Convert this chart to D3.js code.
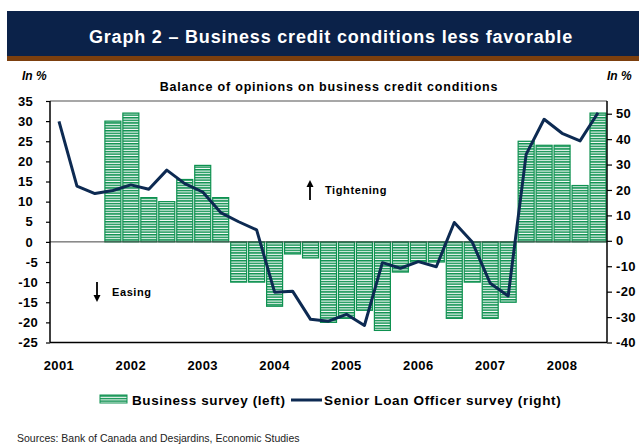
<!DOCTYPE html>
<html>
<head>
<meta charset="utf-8">
<script src="https://cdn.jsdelivr.net/npm/d3@7"></script>
<style>
  body { margin: 0; background: #fff; }
  svg { display: block; font-family: "Liberation Sans", Arial, sans-serif; }
</style>
</head>
<body>
<div id="chart"></div>
<script>

// quarters 2001Q1 .. 2008Q3
var quarters = ["2001Q1","2001Q2","2001Q3","2001Q4","2002Q1","2002Q2","2002Q3","2002Q4",
                "2003Q1","2003Q2","2003Q3","2003Q4","2004Q1","2004Q2","2004Q3","2004Q4",
                "2005Q1","2005Q2","2005Q3","2005Q4","2006Q1","2006Q2","2006Q3","2006Q4",
                "2007Q1","2007Q2","2007Q3","2007Q4","2008Q1","2008Q2","2008Q3"];

var years = ["2001","2002","2003","2004","2005","2006","2007","2008"];

// Business survey (left axis)
var business = [null, null, null, 30, 32, 11, 10, 15.5,
                19, 11, -10, -10, -16, -3, -4, -20,
                -19, -17, -22, -7.5, -5, -5, -19, -10,
                -19, -15, 25, 24, 24, 14, 32];

// Senior Loan Officer survey (right axis)
var seniorLoan = [47, 21.5, 18.6, 19.8, 22, 20.3, 27.8, 22.5,
                  19.2, 11.1, 7.5, 4.3, -20.2, -19.8, -30.9, -31.6,
                  -28.9, -33.3, -8.6, -10.8, -8.2, -10.2, 7.2, -0.5,
                  -16.7, -21.7, 34, 47.8, 42.3, 39.3, 50.4];

var leftTicks = [35, 30, 25, 20, 15, 10, 5, 0, -5, -10, -15, -20, -25];
var rightTicks = [50, 40, 30, 20, 10, 0, -10, -20, -30, -40];

var navy = "#0b2249", green = "#0e9150", lineCol = "#0d2a52";

var svg = d3.select("#chart").append("svg")
    .attr("width", 639)
    .attr("height", 444);

var plot = {left: 50, right: 607, top: 101, bottom: 342.5};

// header band
svg.append("rect").attr("x", 7).attr("y", 11).attr("width", 632).attr("height", 46).attr("fill", navy);
svg.append("rect").attr("x", 7).attr("y", 56).attr("width", 632).attr("height", 5).attr("fill", "#7c3f0e");
svg.append("text")
    .attr("x", 331).attr("y", 43)
    .attr("text-anchor", "middle")
    .attr("fill", "#fff")
    .style("font-size", "18px").style("font-weight", "bold")
    .style("letter-spacing", "0.8px")
    .text("Graph 2 – Business credit conditions less favorable");

// stripe pattern for bars
var pat = svg.append("defs").append("pattern")
    .attr("id", "stripes")
    .attr("patternUnits", "userSpaceOnUse")
    .attr("width", 10).attr("height", 2.6);
pat.append("rect").attr("width", 10).attr("height", 2.6).attr("fill", "#fff");
pat.append("rect").attr("width", 10).attr("height", 1.5).attr("fill", green);

var x = d3.scaleBand().domain(quarters).range([plot.left, plot.right]).paddingInner(0.11).paddingOuter(0.055);
var yL = d3.scaleLinear().domain([-25, 35]).range([plot.bottom, plot.top]);
var yR = d3.scaleLinear().domain([-40, 55]).range([plot.bottom, plot.top]);

// frame top (gray)
svg.append("line")
    .attr("x1", plot.left).attr("x2", plot.right)
    .attr("y1", plot.top).attr("y2", plot.top)
    .attr("stroke", "#8a8a8a").attr("stroke-width", 1.5);

// bars
var barData = quarters.map(function(q, i) { return {q: q, v: business[i]}; })
    .filter(function(d) { return d.v !== null; });

svg.selectAll(".bar")
    .data(barData)
    .enter().append("rect")
    .attr("class", "bar")
    .attr("x", function(d) { return x(d.q); })
    .attr("width", x.bandwidth())
    .attr("y", function(d) { return yL(Math.max(0, d.v)); })
    .attr("height", function(d) { return Math.abs(yL(d.v) - yL(0)); })
    .attr("fill", "url(#stripes)")
    .attr("stroke", green).attr("stroke-width", 1.2);

// zero line
svg.append("line")
    .attr("x1", plot.left).attr("x2", plot.right)
    .attr("y1", yL(0)).attr("y2", yL(0))
    .attr("stroke", "#444").attr("stroke-width", 1);

// axes (plain hyphen minus, like the original)
var fmt = function(d) { return String(d); };

var axL = svg.append("g")
    .attr("class", "axis")
    .attr("transform", "translate(" + plot.left + ",0)")
    .call(d3.axisLeft(yL).tickValues(leftTicks).tickFormat(fmt).tickSize(4).tickPadding(13));

var axR = svg.append("g")
    .attr("class", "axis")
    .attr("transform", "translate(" + plot.right + ",0)")
    .call(d3.axisRight(yR).tickValues(rightTicks).tickFormat(fmt).tickSize(5).tickPadding(4));

svg.selectAll(".axis path").remove();
svg.selectAll(".axis line").attr("stroke", "#000").attr("stroke-width", 1.2);
svg.selectAll(".axis text")
    .attr("fill", "#000")
    .style("font-size", "13px").style("font-weight", "bold")
    .style("letter-spacing", "0.3px")
    .style("font-family", "Liberation Sans, Arial, sans-serif");

// negative labels on the left sit a bit further right
axL.selectAll(".tick text")
    .filter(function(d) { return d < 0; })
    .attr("x", -12);

svg.append("line")
    .attr("x1", plot.left).attr("x2", plot.left)
    .attr("y1", plot.top).attr("y2", plot.bottom)
    .attr("stroke", "#000").attr("stroke-width", 1.5);
svg.append("line")
    .attr("x1", plot.right).attr("x2", plot.right)
    .attr("y1", plot.top).attr("y2", plot.bottom)
    .attr("stroke", "#000").attr("stroke-width", 1.5);
svg.append("line")
    .attr("x1", plot.left).attr("x2", plot.right)
    .attr("y1", plot.bottom).attr("y2", plot.bottom)
    .attr("stroke", "#000").attr("stroke-width", 1.5);

// year labels at Q1 of each year
svg.selectAll(".year")
    .data(years)
    .enter().append("text")
    .attr("class", "year")
    .attr("x", function(d) { return x(d + "Q1") + x.bandwidth() / 2; })
    .attr("y", 370)
    .attr("text-anchor", "middle")
    .style("font-size", "13px").style("font-weight", "bold")
    .style("letter-spacing", "0.4px")
    .text(function(d) { return d; });

// senior loan line
var line = d3.line()
    .x(function(d, i) { return x(quarters[i]) + x.bandwidth() / 2; })
    .y(function(d) { return yR(d); });

svg.append("path")
    .datum(seniorLoan)
    .attr("d", line)
    .attr("fill", "none")
    .attr("stroke", lineCol)
    .attr("stroke-width", 3)
    .attr("stroke-linejoin", "round");

// labels
svg.append("text").attr("x", 22).attr("y", 80)
    .style("font-size", "12px").style("font-weight", "bold").style("font-style", "italic")
    .text("In %");
svg.append("text").attr("x", 607).attr("y", 80)
    .style("font-size", "12px").style("font-weight", "bold").style("font-style", "italic")
    .text("In %");
svg.append("text").attr("x", 329).attr("y", 91)
    .attr("text-anchor", "middle")
    .style("font-size", "12.5px").style("font-weight", "bold")
    .style("letter-spacing", "0.8px")
    .text("Balance of opinions on business credit conditions");

// annotations
function arrow(x0, y0, y1) {
    var dir = y1 > y0 ? 1 : -1;
    svg.append("line").attr("x1", x0).attr("x2", x0).attr("y1", y0).attr("y2", y1 - dir * 5)
        .attr("stroke", "#000").attr("stroke-width", 1.8);
    svg.append("path")
        .attr("d", "M" + (x0 - 3.5) + "," + (y1 - dir * 7) + "L" + (x0 + 3.5) + "," + (y1 - dir * 7) + "L" + x0 + "," + y1 + "Z")
        .attr("fill", "#000");
}
arrow(310, 200, 180);
arrow(97, 282, 302);
svg.append("text").attr("x", 325).attr("y", 194)
    .style("font-size", "11px").style("font-weight", "bold")
    .style("letter-spacing", "0.6px").text("Tightening");
svg.append("text").attr("x", 112).attr("y", 296)
    .style("font-size", "11px").style("font-weight", "bold")
    .style("letter-spacing", "0.6px").text("Easing");

// legend
svg.append("rect").attr("x", 100).attr("y", 395).attr("width", 27).attr("height", 8)
    .attr("fill", "url(#stripes)").attr("stroke", green).attr("stroke-width", 1);
svg.append("text").attr("x", 132).attr("y", 405)
    .style("font-size", "13.5px").style("font-weight", "bold")
    .style("letter-spacing", "0.6px").text("Business survey (left)");
svg.append("line").attr("x1", 291).attr("x2", 322).attr("y1", 400).attr("y2", 400)
    .attr("stroke", lineCol).attr("stroke-width", 3);
svg.append("text").attr("x", 324).attr("y", 405)
    .style("font-size", "13.5px").style("font-weight", "bold")
    .style("letter-spacing", "0.65px").text("Senior Loan Officer survey (right)");

svg.append("text").attr("x", 17).attr("y", 442)
    .style("font-size", "10.5px").attr("fill", "#222")
    .text("Sources: Bank of Canada and Desjardins, Economic Studies");

</script>
</body>
</html>
